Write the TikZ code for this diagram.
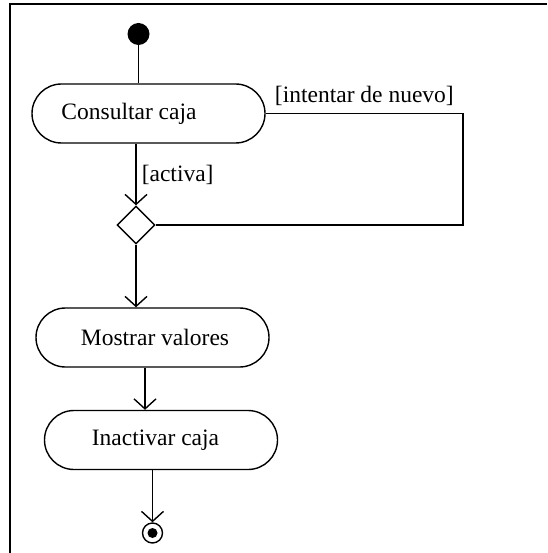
\documentclass[tikz,border=0pt]{standalone}
\usepackage{fontspec}
\setmainfont{Liberation Serif}
\usetikzlibrary{shapes.misc,shapes.geometric,arrows.meta}

\begin{document}
\begin{tikzpicture}[x=1pt,y=-1pt,
  every node/.style={font=\fontsize{23.5}{27}\selectfont},
  line/.style={line width=1.6pt},
  flow/.style={line, -{Straight Barb[length=10pt,width=22pt,line width=1.4pt]}},
  action/.style={rounded rectangle, draw, line width=1.4pt,
    minimum width=233pt, minimum height=59pt, inner sep=0pt},
  decision/.style={diamond, draw, line width=1.4pt,
    minimum width=38pt, minimum height=38pt, inner sep=0pt},
  guard/.style={inner sep=0pt}
]
  % page area and frame
  \useasboundingbox (0,0) rectangle (547,553);
  \draw[line width=2.5pt] (547,4) -- (10,4) -- (10,553);

  % initial state
  \node[circle, fill=black, minimum size=22pt, inner sep=0pt] (start) at (138.5,34) {};

  % activities
  \node[action, label={[xshift=-19.5pt]center:Consultar caja}] (c) at (148.5,113.5) {};
  \node[decision] (d) at (136,225) {};
  \node[action, label={[xshift=2.5pt]center:Mostrar valores}] (m) at (152.5,337.5) {};
  \node[action, label={[xshift=-5.5pt]center:Inactivar caja}] (i) at (161,440) {};

  % final state
  \node[circle, draw, line width=1.4pt, minimum size=20pt, inner sep=0pt] (end) at (152.5,533) {};
  \fill (end.center) circle (5pt);

  % corner of the retry loop
  \coordinate (lc) at (463,225);

  % transitions
  \draw[line] (start) -- (start |- c.north);
  \draw[flow] (d |- c.south) -- node[midway, anchor=west, guard, xshift=5pt]{[activa]} (d.north);
  \draw[line] (c.east) -- node[midway, above, guard, yshift=7pt]{[intentar de nuevo]} (c.east -| lc) -- (lc) -- (d.east);
  \draw[flow] (d.south) -- (d.south |- m.north);
  \draw[flow] ([xshift=-7.5pt]m.south) -- ([xshift=-7.5pt]m.south |- i.north);
  \draw[flow] (end |- i.south) -- (end.north);
\end{tikzpicture}
\end{document}
